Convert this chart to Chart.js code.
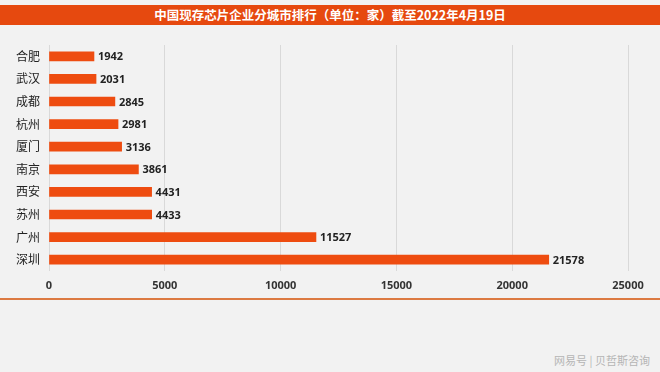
<!DOCTYPE html>
<html>
<head>
<meta charset="utf-8">
<script src="https://cdn.jsdelivr.net/npm/chart.js@4"></script>
<style>
    body { margin: 0; background: #f2f2f2; }
    #page { position: relative; width: 660px; height: 372px; background: #f2f2f2; overflow: hidden; }
    #banner {
        position: absolute; left: 0; top: 5px; width: 660px; height: 20px;
        background: #e6490f; color: #fff; text-align: center;
        font: bold 12.5px "Noto Sans CJK SC", sans-serif; line-height: 20px;
    }
    #chartBox { position: absolute; left: 0; top: 0; width: 660px; height: 300px; }
    #rule { position: absolute; left: 0; top: 298px; width: 660px; height: 2px; background: #dc7a42; }
    #mark {
        position: absolute; right: 10px; top: 352px; color: #b5b5b5;
        font: 11px "Noto Sans CJK SC", sans-serif;
    }
</style>
</head>
<body>
<div id="page">
    <div id="banner">中国现存芯片企业分城市排行（单位：家）截至2022年4月19日</div>
    <div id="chartBox"><canvas id="chart"></canvas></div>
    <div id="rule"></div>
    <div id="mark">网易号 | 贝哲斯咨询</div>
</div>
<script>
const cities = ["合肥", "武汉", "成都", "杭州", "厦门", "南京", "西安", "苏州", "广州", "深圳"];
const companies = [1942, 2031, 2845, 2981, 3136, 3861, 4431, 4433, 11527, 21578];
const xTicks = [0, 5000, 10000, 15000, 20000, 25000];

const BAR_COLOR = "#ee4c10";

// value text just past the end of each bar
const valueLabels = {
    id: "valueLabels",
    afterDatasetsDraw(chart) {
        const ctx = chart.ctx;
        const meta = chart.getDatasetMeta(0);
        ctx.save();
        ctx.font = "bold 11px 'Open Sans', sans-serif";
        ctx.fillStyle = "#222";
        ctx.textAlign = "left";
        ctx.textBaseline = "middle";
        meta.data.forEach((bar, i) => {
            ctx.fillText(String(companies[i]), bar.x + 4, bar.y + 1);
        });
        ctx.restore();
    },
};

new Chart(document.getElementById("chart"), {
    type: "bar",
    data: {
        labels: cities,
        datasets: [{
            data: companies,
            backgroundColor: BAR_COLOR,
            barThickness: 9,
        }],
    },
    options: {
        indexAxis: "y",
        responsive: true,
        maintainAspectRatio: false,
        animation: false,
        layout: { padding: { top: 45, right: 32, left: 0, bottom: 0 } },
        plugins: { legend: { display: false }, tooltip: { enabled: false } },
        scales: {
            x: {
                min: 0,
                max: 25000,
                afterBuildTicks: (axis) => { axis.ticks = xTicks.map((v) => ({ value: v })); },
                afterFit: (axis) => { axis.height = 29; },
                grid: { color: "#d9d9d9", drawTicks: false },
                border: { display: false },
                ticks: {
                    padding: 8,
                    color: "#333",
                    callback: (value) => String(value),
                    font: { family: "'Open Sans', sans-serif", size: 11, weight: "bold" },
                },
            },
            y: {
                afterFit: (axis) => { axis.width = 49; },
                grid: { display: false, drawTicks: false },
                border: { display: false },
                ticks: {
                    padding: 9,
                    color: "#222",
                    font: { family: "'Noto Sans CJK SC', sans-serif", size: 12 },
                },
            },
        },
    },
    plugins: [valueLabels],
});
</script>
</body>
</html>
